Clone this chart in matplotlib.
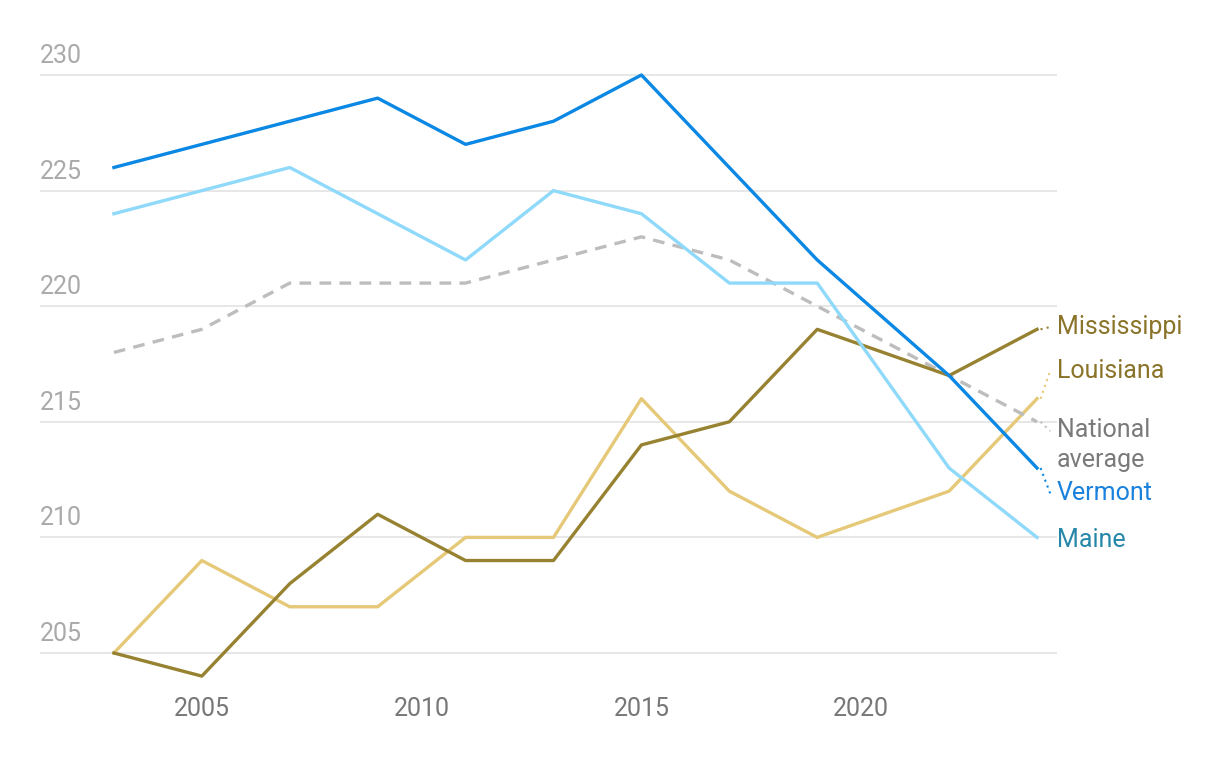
import matplotlib.pyplot as plt
import matplotlib.transforms as mtransforms

plt.rcParams['font.family'] = ['Roboto', 'DejaVu Sans']

# data
years = [2003, 2005, 2007, 2009, 2011, 2013, 2015, 2017, 2019, 2022, 2024]
vermont = [226, 227, 228, 229, 227, 228, 230, 226, 222, 217, 213]
maine = [224, 225, 226, 224, 222, 225, 224, 221, 221, 213, 210]
national = [218, 219, 221, 221, 221, 222, 223, 222, 220, 217, 215]
mississippi = [205, 204, 208, 211, 209, 209, 214, 215, 219, 217, 219]
louisiana = [205, 209, 207, 207, 210, 210, 216, 212, 210, 212, 216]

yticks = [205, 210, 215, 220, 225, 230]
xticks = [2005, 2010, 2015, 2020]

# label positions (y value of each end label)
labels = ['Mississippi', 'Louisiana', 'National\naverage', 'Vermont', 'Maine']
label_y = [219.1, 217.2, 214.6, 211.9, 209.9]

fig = plt.figure(figsize=(12.2, 7.62), dpi=100)
W, H = 1220, 762
ax = fig.add_axes([40 / W, 1 - 680 / H, (1057 - 40) / W, (680 - 40) / H])

ax.set_xlim(2003 - 74 / 44, 2024 + 20 / 44)
ax.set_ylim(205 - 27 / 23.12, 230 + 35 / 23.12)

for y in yticks:
    ax.axhline(y, color='#e3e3e3', lw=1.2, zorder=0)
trans = mtransforms.blended_transform_factory(ax.transAxes, ax.transData)
for y in yticks:
    ax.text(0, y + 0.3, str(y), transform=trans, ha='left', va='bottom',
            fontsize=18, color='#aaaaaa')

ax.plot(years, louisiana, color='#e5c978', lw=2.4, zorder=2)
ax.plot(years, mississippi, color='#978232', lw=2.4, zorder=3)
ax.plot(years, national, color='#bdbdbd', lw=2.4, ls=(0, (3.5, 2.5)), zorder=2)
ax.plot(years, maine, color='#8fd9fa', lw=2.4, zorder=3)
ax.plot(years, vermont, color='#0b88e3', lw=2.4, zorder=4)

series = [mississippi, louisiana, national, vermont, maine]
line_cols = ['#978232', '#e5c978', '#bdbdbd', '#0b88e3', '#8fd9fa']
text_cols = ['#8a7429', '#8a7429', '#7a7a7a', '#1a82dc', '#2787a8']
for s, lab, ly, lc, tc in zip(series, labels, label_y, line_cols, text_cols):
    if lab != 'Maine':
        ax.plot([years[-1] + 0.08, years[-1] + 0.3], [s[-1], ly], color=lc,
                lw=1.5, ls=(0, (1, 2)), clip_on=False)
    va = 'top' if '\n' in lab else 'center'
    yy = ly + 0.55 if '\n' in lab else ly
    ax.text(years[-1] + 0.45, yy, lab, ha='left', va=va, fontsize=18,
            color=tc, linespacing=1.3, clip_on=False)

ax.set_xticks(xticks)
ax.set_xticklabels([str(x) for x in xticks])
ax.tick_params(axis='x', length=0, labelsize=18, labelcolor='#777777', pad=12)
ax.set_yticks([])
for sp in ax.spines.values():
    sp.set_visible(False)

fig.savefig('out.png', dpi=100)
